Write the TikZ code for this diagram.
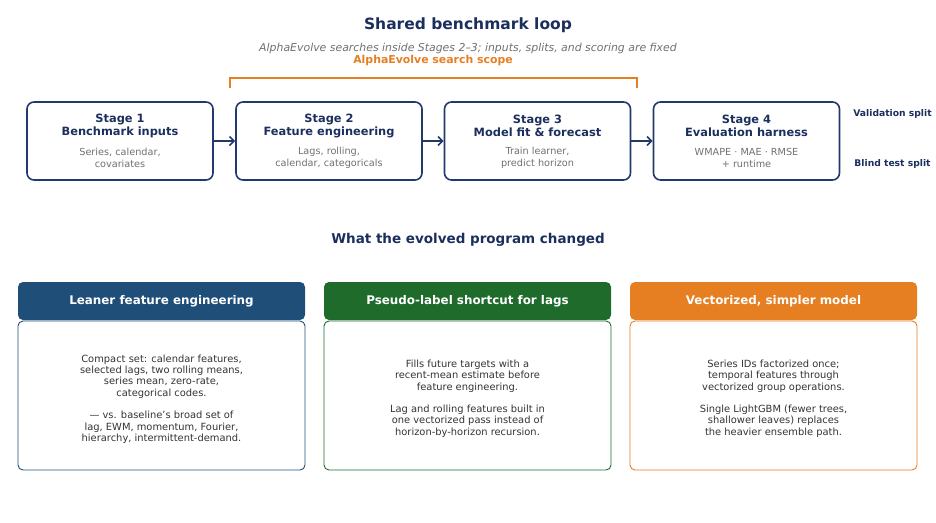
\documentclass[tikz,border=0pt]{standalone}
\usepackage{fontspec}
\setmainfont{DejaVu Sans}
\usepackage{xcolor}
\usetikzlibrary{arrows.meta,positioning}
\definecolor{navy}{HTML}{1B2F5E}
\definecolor{stageline}{HTML}{24396B}
\definecolor{bodygray}{HTML}{707070}
\definecolor{textdark}{HTML}{333333}
\definecolor{hdrblue}{HTML}{1F4E79}
\definecolor{hdrgreen}{HTML}{1E6B2C}
\definecolor{hdrorange}{HTML}{E67E22}
\tikzset{
  stagebox/.style={draw=stageline,line width=1.6pt,rounded corners=7pt,
    minimum width=186pt,minimum height=78pt,inner sep=0pt},
  stagetitle/.style={font=\fontsize{11.4}{13}\selectfont\bfseries,text=navy,align=center},
  stagebody/.style={font=\fontsize{9.7}{12}\selectfont,text=bodygray,align=center},
  flowarrow/.style={-{Straight Barb[length=4.5pt,width=9pt]},draw=stageline,line width=1.7pt},
  hdrbox/.style={fill=#1,rounded corners=5pt,minimum width=287pt,minimum height=38pt,
    inner sep=0pt,text=white,font=\fontsize{11.9}{13}\selectfont\bfseries},
  cardbox/.style={draw=#1,line width=0.9pt,rounded corners=5pt,
    minimum width=287pt,minimum height=149pt,inner sep=0pt},
  cardtext/.style={font=\fontsize{9.9}{11.4}\selectfont,text=textdark,align=center},
  splitlabel/.style={font=\fontsize{9.2}{10}\selectfont\bfseries,text=navy}
}
\begin{document}
\begin{tikzpicture}[x=1pt,y=-1pt]
\useasboundingbox (0,0) rectangle (936,522);
%% heading
\node[font=\fontsize{15.5}{17}\selectfont\bfseries,text=navy] (title) at (468,25.5) {Shared benchmark loop};
\node[font=\fontsize{10.9}{12}\selectfont\itshape,text=bodygray] (subtitle) at (468,48.5)
  {AlphaEvolve searches inside Stages 2–3; inputs, splits, and scoring are fixed};
\node[font=\fontsize{10.9}{12}\selectfont\bfseries,text=hdrorange] (scope) at (433,60.5) {AlphaEvolve search scope};
%% bracket over stages 2 and 3
\draw[hdrorange,line width=1.4pt] (230,88) -- (230,78) -- (637,78) -- (637,88);
%% the four stages
\node[stagebox] (s1) at (120,141) {};
\node[stagebox] (s2) at (329,141) {};
\node[stagebox] (s3) at (537.5,141) {};
\node[stagebox] (s4) at (746.5,141) {};
\node[stagetitle] (t1) at (120,125.5) {Stage 1\\Benchmark inputs};
\node[stagetitle] (t2) at (329,125.5) {Stage 2\\Feature engineering};
\node[stagetitle] (t3) at (537.5,125.5) {Stage 3\\Model fit \& forecast};
\node[stagetitle] (t4) at (746.5,125.5) {Stage 4\\Evaluation harness};
\node[stagebody] (b1) at (120,157.5) {Series, calendar,\\covariates};
\node[stagebody] (b2) at (329,157.5) {Lags, rolling,\\calendar, categoricals};
\node[stagebody] (b3) at (537.5,157.5) {Train learner,\\predict horizon};
\node[stagebody] (b4) at (746.5,157.5) {WMAPE · MAE · RMSE\\+ runtime};
\draw[flowarrow] (s1) -- (s2);
\draw[flowarrow] (s2) -- (s3);
\draw[flowarrow] (s3) -- (s4);
\node[splitlabel] (val) at (892.5,114) {Validation split};
\node[splitlabel] (blind) at (892.5,164) {Blind test split};
%% what changed
\node[font=\fontsize{13.5}{15}\selectfont\bfseries,text=navy] (changed) at (468,239.5) {What the evolved program changed};
\node[cardbox=hdrblue] (c1) at (161.5,395.5) {};
\node[cardbox=hdrgreen] (c2) at (467.5,395.5) {};
\node[cardbox=hdrorange] (c3) at (773.5,395.5) {};
\node[hdrbox=hdrblue] (h1) at (161.5,301) {Leaner feature engineering};
\node[hdrbox=hdrgreen] (h2) at (467.5,301) {Pseudo-label shortcut for lags};
\node[hdrbox=hdrorange] (h3) at (773.5,301) {Vectorized, simpler model};
\node[cardtext] (x1) at (161.5,399) {Compact set: calendar features,\\selected lags, two rolling means,\\series mean, zero-rate,\\categorical codes.\\[11pt]— vs. baseline's broad set of\\lag, EWM, momentum, Fourier,\\hierarchy, intermittent-demand.};
\node[cardtext] (x2) at (467.5,398.5) {Fills future targets with a\\recent-mean estimate before\\feature engineering.\\[11pt]Lag and rolling features built in\\one vectorized pass instead of\\horizon-by-horizon recursion.};
\node[cardtext] (x3) at (773.5,398.5) {Series IDs factorized once;\\temporal features through\\vectorized group operations.\\[11pt]Single LightGBM (fewer trees,\\shallower leaves) replaces\\the heavier ensemble path.};
\end{tikzpicture}
\end{document}
